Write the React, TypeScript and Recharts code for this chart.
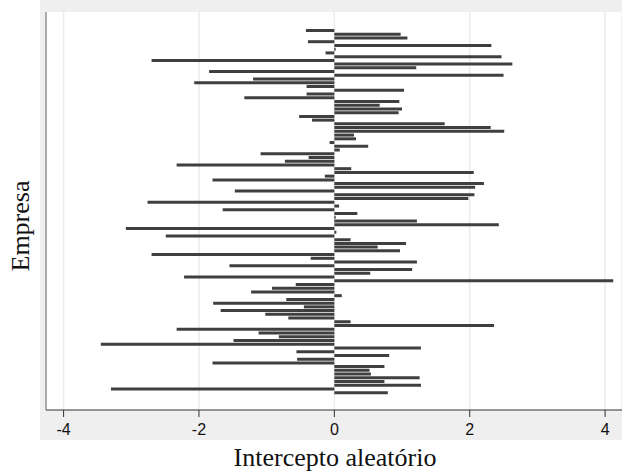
import { Bar, BarChart, CartesianGrid, XAxis, YAxis } from "recharts";

// random intercept per company, top to bottom as drawn
const valores = [
  -0.42, 0.98, 1.08, -0.39, 2.32, 0.02, -0.13, 2.47, -2.7, 2.63,
  1.21, -1.85, 2.5, -1.2, -2.07, -0.41, 1.03, -0.41, -1.33, 0.96,
  0.67, 1.0, 0.95, -0.52, -0.33, 1.63, 2.31, 2.51, 0.29, 0.32,
  -0.07, 0.5, 0.08, -1.09, -0.38, -0.73, -2.33, 0.25, 2.06, -0.14,
  -1.8, 2.21, 2.08, -1.47, 2.07, 1.98, -2.76, 0.07, -1.65, 0.34,
  0.02, 1.22, 2.43, -3.08, 0.03, -2.49, 0.24, 1.06, 0.64, 0.97,
  -2.7, -0.35, 1.22, -1.55, 1.15, 0.53, -2.22, 4.12, -0.57, -0.92,
  -1.23, 0.11, -0.71, -1.79, -0.45, -1.68, -1.02, -0.68, 0.24, 2.36,
  -2.33, -1.12, -0.82, -1.49, -3.45, 1.28, -0.56, 0.81, -0.55, -1.8,
  0.74, 0.52, 0.54, 1.26, 0.74, 1.28, -3.3, 0.79,
];

const empresas = valores.map((_, i) => `Empresa ${i + 1}`);
const xTicks = [-4, -2, 0, 2, 4];

const data = empresas.map((empresa, i) => ({ empresa, valor: valores[i] }));

export default function App() {
  return (
    <div
      style={{
        position: "absolute",
        left: 0,
        top: 0,
        width: 622,
        height: 474,
        background: "#fff",
      }}
    >
      <div
        style={{
          position: "absolute",
          left: 40,
          top: 0,
          width: 582,
          height: 440,
          background: "#efefef",
        }}
      >
        <BarChart
          width={582}
          height={440}
          data={data}
          layout="vertical"
          margin={{ top: 12, right: 0, bottom: 0, left: 0 }}
          barCategoryGap={1}
        >
          <CartesianGrid
            horizontal={false}
            stroke="#ebebeb"
            strokeWidth={1.5}
            fill="#ffffff"
          />
          <XAxis
            type="number"
            domain={[-4.26, 4.25]}
            ticks={xTicks}
            allowDataOverflow
            height={30}
            axisLine={{ stroke: "#333" }}
            tickLine={{ stroke: "#333" }}
            tickSize={7}
            tick={{
              fill: "#111",
              fontSize: 16,
              dy: 5,
              fontFamily: "Liberation Sans, Arial, sans-serif",
            }}
          />
          <YAxis
            type="category"
            dataKey="empresa"
            width={6}
            tick={false}
            tickLine={false}
            axisLine={{ stroke: "#666" }}
            padding={{ top: 17, bottom: 15 }}
          />
          <Bar
            dataKey="valor"
            fill="#3f3f3f"
            barSize={3}
            isAnimationActive={false}
          />
        </BarChart>
      </div>
      <div
        style={{
          position: "absolute",
          left: 8,
          top: 226,
          transform: "translate(-50%, -50%) rotate(-90deg)",
          transformOrigin: "center",
          marginLeft: 13,
          fontFamily: "Liberation Serif, Times New Roman, serif",
          fontSize: 26,
          whiteSpace: "nowrap",
          color: "#111",
        }}
      >
        Empresa
      </div>
      <div
        style={{
          position: "absolute",
          left: 0,
          width: 670,
          top: 443,
          textAlign: "center",
          fontFamily: "Liberation Serif, Times New Roman, serif",
          fontSize: 26,
          color: "#111",
        }}
      >
        Intercepto aleatório
      </div>
    </div>
  );
}
